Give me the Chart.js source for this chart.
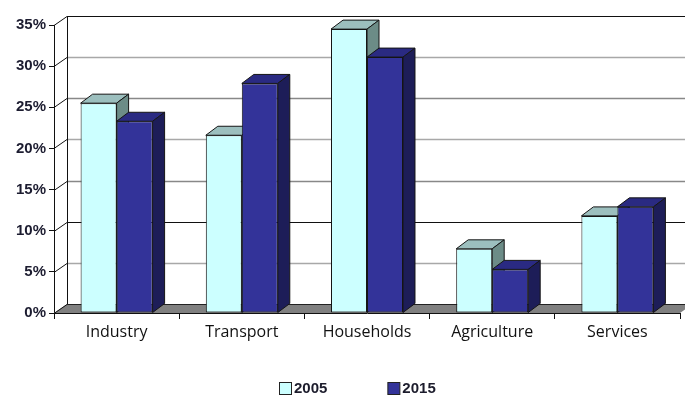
<!DOCTYPE html>
<html>
<head>
<meta charset="utf-8">
<script src="https://cdn.jsdelivr.net/npm/chart.js@4.4.0/dist/chart.umd.min.js"></script>
<style>
  html, body { margin: 0; padding: 0; background: #fff; }
  #wrap { width: 685px; height: 396px; }
</style>
</head>
<body>
<div id="wrap"><canvas id="energyChart" width="685" height="396"></canvas></div>
<script>
const categories = ['Industry', 'Transport', 'Households', 'Agriculture', 'Services'];
const years = ['2005', '2015'];
const share2005 = [25.5, 21.6, 34.5, 7.8, 11.8];
const share2015 = [23.3, 27.9, 31.1, 5.3, 12.9];
const yTicks = [0, 5, 10, 15, 20, 25, 30, 35];

// depth of the back wall and of each block
const WALL_DX = 13, WALL_DY = 9;
const BAR_DX = 12, BAR_DY = 9;

const faces = [
    { front: '#ccffff', top: '#9cbfbe', side: '#6c8c87' },
    { front: '#333399', top: '#2a2a82', side: '#1d1d58' }
];

// gridline shade per tick on the back wall
const gridShade = ['#222', '#a8a8a8', '#111', '#888', '#a8a8a8', '#888', '#a8a8a8', '#111'];

const backdrop = {
    id: 'backdrop',
    beforeDatasetsDraw(chart) {
        const { ctx, chartArea: a, scales: { y } } = chart;
        ctx.save();

        // floor
        ctx.fillStyle = '#808080';
        ctx.beginPath();
        ctx.moveTo(a.left, a.bottom);
        ctx.lineTo(a.left + WALL_DX, a.bottom - WALL_DY);
        ctx.lineTo(chart.width + WALL_DX, a.bottom - WALL_DY);
        ctx.lineTo(a.right + WALL_DX, a.bottom - WALL_DY);
        ctx.lineTo(a.right, a.bottom);
        ctx.closePath();
        ctx.fill();

        // back wall lines and the diagonals to the front axis
        yTicks.forEach((v, i) => {
            const py = Math.round(y.getPixelForValue(v)) + 0.5;
            ctx.strokeStyle = gridShade[i];
            ctx.lineWidth = (i === 0 || i === 2 || i === 7) ? 1 : 1.6;
            ctx.beginPath();
            ctx.moveTo(a.left + WALL_DX, py - WALL_DY);
            ctx.lineTo(chart.width, py - WALL_DY);
            ctx.stroke();

            ctx.strokeStyle = '#111';
            ctx.lineWidth = 1;
            ctx.beginPath();
            ctx.moveTo(a.left, py);
            ctx.lineTo(a.left + WALL_DX, py - WALL_DY);
            ctx.stroke();
        });

        // left wall edge
        const x0 = a.left + WALL_DX + 0.5;
        ctx.strokeStyle = '#111';
        ctx.beginPath();
        ctx.moveTo(x0, Math.round(y.getPixelForValue(35)) - WALL_DY);
        ctx.lineTo(x0, Math.round(y.getPixelForValue(0)) - WALL_DY);
        ctx.stroke();

        ctx.restore();
    }
};

function drawBlocks(chart, index) {
    const ctx = chart.ctx;
    const c = faces[index];
    ctx.save();
    ctx.strokeStyle = '#151515';
    ctx.lineWidth = 1;
    ctx.lineJoin = 'round';
    chart.getDatasetMeta(index).data.forEach(bar => {
        const l = bar.x - bar.width / 2, r = bar.x + bar.width / 2;
        const t = bar.y, b = bar.base;

        ctx.fillStyle = c.top;
        ctx.beginPath();
        ctx.moveTo(l, t);
        ctx.lineTo(l + BAR_DX, t - BAR_DY);
        ctx.lineTo(r + BAR_DX, t - BAR_DY);
        ctx.lineTo(r, t);
        ctx.closePath();
        ctx.fill();
        ctx.stroke();

        ctx.fillStyle = c.side;
        ctx.beginPath();
        ctx.moveTo(r, t);
        ctx.lineTo(r + BAR_DX, t - BAR_DY);
        ctx.lineTo(r + BAR_DX, b - BAR_DY);
        ctx.lineTo(r, b);
        ctx.closePath();
        ctx.fill();
        ctx.stroke();
    });
    ctx.restore();
}

// datasets are painted last-to-first, so 2015 goes down before 2005
const blocks = {
    id: 'blocks',
    beforeDatasetDraw(chart, args) {
        if (args.index === 1) drawBlocks(chart, 0);
    },
    afterDatasetDraw(chart, args) {
        if (args.index === 1) drawBlocks(chart, 1);
    }
};

const yearKey = {
    id: 'yearKey',
    afterDraw(chart) {
        const { ctx, chartArea: a } = chart;
        ctx.save();
        ctx.font = 'bold 15px "Liberation Sans", Arial, sans-serif';
        ctx.textBaseline = 'middle';
        const box = 12, gap = 3, spacing = 60;
        const widths = years.map(t => ctx.measureText(t).width);
        const total = widths.reduce((s, w) => s + box + gap + w, 0) + spacing;
        let x = Math.round((a.left + a.right) / 2 - total / 2 - 10);
        const cy = 388;
        years.forEach((t, i) => {
            ctx.fillStyle = faces[i].front;
            ctx.fillRect(x + 0.5, cy - 6 + 0.5, box, box);
            ctx.strokeStyle = '#222';
            ctx.lineWidth = 1;
            ctx.strokeRect(x + 0.5, cy - 6 + 0.5, box, box);
            ctx.fillStyle = '#1c1c2c';
            ctx.fillText(t, x + box + gap, cy + 1);
            x += box + gap + widths[i] + spacing;
        });
        ctx.restore();
    }
};

const ctx = document.getElementById('energyChart').getContext('2d');
const chart = new Chart(ctx, {
    type: 'bar',
    data: {
        labels: categories,
        datasets: [
            { label: years[0], data: share2005, backgroundColor: faces[0].front },
            { label: years[1], data: share2015, backgroundColor: faces[1].front }
        ]
    },
    options: {
        responsive: false,
        animation: false,
        devicePixelRatio: 1,
        layout: { padding: { top: 25, right: 5, left: 0, bottom: 0 } },
        datasets: {
            bar: {
                barPercentage: 1,
                categoryPercentage: 0.575,
                borderWidth: 1,
                borderColor: '#151515',
                borderSkipped: false
            }
        },
        plugins: {
            legend: { display: false },
            tooltip: { enabled: false }
        },
        scales: {
            x: {
                grid: { drawOnChartArea: false, offset: true, tickLength: 6, color: '#111' },
                border: { color: '#111' },
                ticks: {
                    font: { family: '"Open Sans", sans-serif', size: 16 },
                    color: '#111',
                    padding: 4
                },
                afterFit(scale) { scale.height = 83; }
            },
            y: {
                min: 0,
                max: 35,
                grid: { drawOnChartArea: false, tickLength: 5, color: '#111' },
                border: { color: '#111' },
                ticks: {
                    stepSize: 5,
                    callback: v => v + '%',
                    font: { family: '"Liberation Sans", Arial, sans-serif', size: 15, weight: 'bold' },
                    color: '#1c1c30',
                    padding: 3
                },
                afterFit(scale) { scale.width = 54; }
            }
        }
    },
    plugins: [backdrop, blocks, yearKey]
});
</script>
</body>
</html>
